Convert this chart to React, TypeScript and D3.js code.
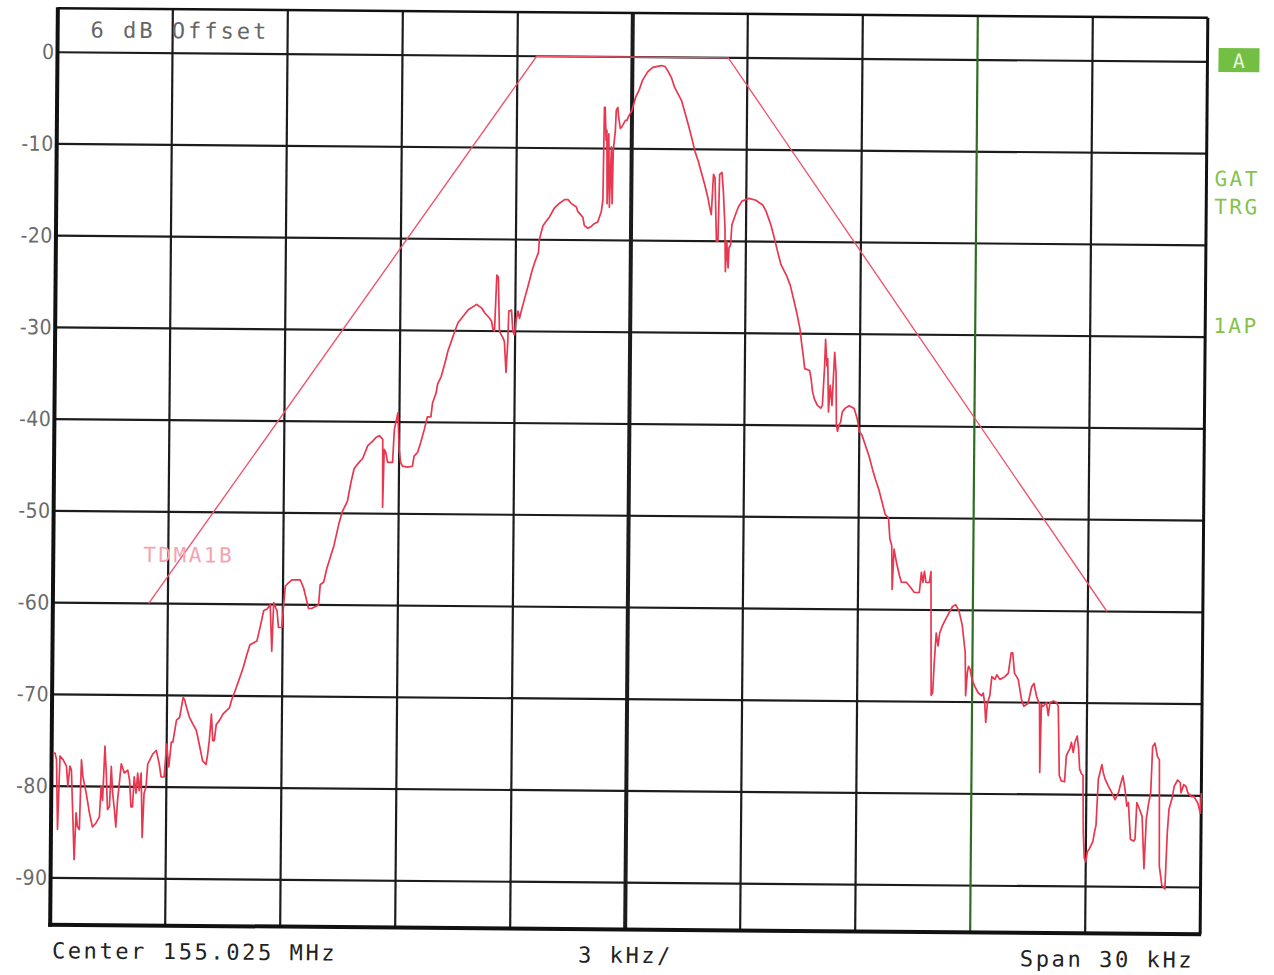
import React, { useRef, useEffect } from 'react';
import * as d3 from 'd3';

// spectrum analyser plot, 3 kHz/div, dB
const freqTicks = [-12, -9, -6, -3, 0, 3, 6, 9, 12];
const levelTicks = [0, -10, -20, -30, -40, -50, -60, -70, -80, -90];
const levelLabels = ['0', '-10', '-20', '-30', '-40', '-50', '-60', '-70', '-80', '-90'];
const markerFreq = 9; // green display line

const maskKHz = [-12.5, -2.5, 2.5, 12.5];
const maskDb = [-60, 0, 0, -60];

// [kHz offset, dB]
const trace: [number, number][] = [
  [-14.97, -76.4], [-14.91, -76.4], [-14.87, -77.1], [-14.83, -84.7], [-14.78, -76.7],
  [-14.70, -77.1], [-14.61, -77.8], [-14.57, -80.0], [-14.52, -77.8], [-14.48, -78.2],
  [-14.39, -88.0], [-14.35, -82.9], [-14.31, -84.4], [-14.26, -84.7], [-14.22, -77.1],
  [-14.18, -78.9], [-14.09, -80.7], [-14.00, -82.9], [-13.92, -84.4], [-13.83, -84.0],
  [-13.74, -83.3], [-13.70, -80.0], [-13.66, -81.5], [-13.61, -75.6], [-13.57, -78.5],
  [-13.53, -82.5], [-13.48, -82.2], [-13.44, -77.8], [-13.40, -80.7], [-13.35, -82.5],
  [-13.31, -84.4], [-13.27, -81.5], [-13.18, -77.5], [-13.10, -78.5], [-13.01, -78.2],
  [-12.96, -79.3], [-12.92, -82.2], [-12.88, -82.2], [-12.84, -78.9], [-12.79, -80.7],
  [-12.75, -78.5], [-12.71, -80.4], [-12.66, -78.5], [-12.62, -85.5], [-12.58, -80.7],
  [-12.53, -80.0], [-12.49, -77.5], [-12.36, -76.4], [-12.27, -76.0], [-12.19, -77.5],
  [-12.14, -78.9], [-12.06, -78.9], [-12.00, -75.3], [-11.94, -77.8], [-11.88, -75.1],
  [-11.84, -75.1], [-11.75, -72.7], [-11.67, -72.4], [-11.58, -70.2], [-11.54, -70.5],
  [-11.49, -71.3], [-11.41, -72.4], [-11.32, -73.1], [-11.23, -73.8], [-11.15, -75.3],
  [-11.06, -77.1], [-10.97, -77.5], [-10.93, -76.4], [-10.89, -74.9], [-10.84, -72.0],
  [-10.80, -74.9], [-10.76, -74.9], [-10.71, -73.1], [-10.63, -72.7], [-10.54, -72.0],
  [-10.45, -71.6], [-10.37, -71.3], [-10.32, -70.5], [-10.24, -69.6], [-10.15, -68.5],
  [-10.02, -66.9], [-9.93, -65.5], [-9.85, -64.4], [-9.67, -64.0], [-9.59, -62.5],
  [-9.50, -60.7], [-9.41, -60.5], [-9.33, -60.0], [-9.28, -65.1], [-9.24, -59.8],
  [-9.15, -60.7], [-9.11, -62.5], [-9.02, -62.5], [-8.98, -60.0], [-8.94, -58.0],
  [-8.90, -57.8], [-8.77, -57.3], [-8.55, -57.3], [-8.46, -58.2], [-8.33, -60.4],
  [-8.25, -60.4], [-8.07, -60.0], [-8.03, -57.8], [-7.94, -57.5], [-7.86, -56.0],
  [-7.68, -53.5],
  [-7.56, -51.2], [-7.47, -49.8], [-7.34, -48.7], [-7.25, -46.6], [-7.17, -45.1],
  [-7.04, -44.4], [-6.95, -44.0], [-6.82, -42.6], [-6.69, -42.1], [-6.61, -41.7],
  [-6.52, -41.5], [-6.43, -41.9], [-6.42, -49.3], [-6.39, -43.0], [-6.35, -43.3],
  [-6.30, -44.4], [-6.17, -44.4], [-6.13, -40.8], [-6.04, -39.0], [-6.00, -43.0],
  [-5.96, -44.4], [-5.91, -44.8], [-5.78, -44.9], [-5.65, -44.8], [-5.61, -43.7],
  [-5.52, -43.3], [-5.44, -42.2], [-5.35, -40.8], [-5.27, -39.4], [-5.18, -39.4],
  [-5.14, -37.9], [-5.05, -36.8], [-5.01, -35.8], [-4.92, -35.0], [-4.83, -33.6],
  [-4.75, -32.2], [-4.66, -31.1], [-4.57, -30.0], [-4.49, -29.1], [-4.36, -28.4],
  [-4.23, -27.7], [-4.01, -27.1], [-3.88, -27.5], [-3.80, -28.0], [-3.67, -28.6],
  [-3.62, -28.9], [-3.58, -29.8], [-3.54, -30.0], [-3.49, -23.9], [-3.45, -24.1],
  [-3.41, -30.0], [-3.36, -30.4], [-3.32, -30.7], [-3.28, -31.1], [-3.23, -34.5],
  [-3.19, -31.1], [-3.17, -27.8], [-3.10, -27.7], [-3.06, -30.0], [-3.02, -30.4],
  [-2.97, -28.6], [-2.93, -27.8], [-2.89, -28.6], [-2.84, -27.7], [-2.76, -26.4],
  [-2.67, -25.0], [-2.58, -23.5], [-2.50, -22.4], [-2.41, -21.4],
  [-2.39, -20.0], [-2.30, -18.5], [-2.22, -18.0], [-2.13, -17.5], [-2.00, -16.5],
  [-1.87, -16.0], [-1.74, -15.6], [-1.65, -15.6], [-1.57, -16.0], [-1.43, -16.4],
  [-1.39, -16.9], [-1.30, -17.3], [-1.26, -17.5], [-1.22, -18.4], [-1.13, -18.7],
  [-1.04, -18.5], [-0.96, -18.2], [-0.87, -18.0], [-0.78, -16.9], [-0.74, -15.6],
  [-0.72, -5.5], [-0.70, -5.5], [-0.67, -9.1], [-0.65, -8.0], [-0.63, -16.0],
  [-0.60, -8.4], [-0.57, -16.4], [-0.53, -9.8], [-0.50, -16.0], [-0.48, -10.2],
  [-0.43, -8.0], [-0.41, -5.8], [-0.37, -5.5], [-0.35, -6.5], [-0.30, -7.8],
  [-0.26, -7.6], [-0.22, -7.3], [-0.17, -6.9], [-0.13, -6.9], [-0.09, -6.5],
  [0.00, -5.8], [0.09, -4.4], [0.18, -3.6], [0.27, -2.5], [0.40, -1.6],
  [0.53, -1.1], [0.76, -0.9], [0.85, -1.0], [0.93, -1.5], [1.02, -2.2],
  [1.11, -3.3], [1.20, -4.0], [1.29, -4.7], [1.38, -6.0], [1.47, -7.3],
  [1.56, -8.7], [1.65, -10.2], [1.74, -11.3], [1.82, -12.5], [1.91, -13.8],
  [2.00, -15.3], [2.05, -16.4], [2.09, -17.1], [2.14, -12.7], [2.18, -13.1],
  [2.23, -20.0], [2.27, -20.0], [2.30, -12.7], [2.36, -12.5], [2.40, -14.5],
  [2.45, -18.5], [2.47, -23.3], [2.50, -20.0], [2.54, -22.9], [2.56, -20.7],
  [2.60, -20.4], [2.63, -18.2], [2.72, -17.1], [2.80, -16.2], [2.89, -15.6],
  [3.07, -15.3], [3.25, -15.5], [3.43, -16.0], [3.52, -16.7], [3.65, -18.2],
  [3.74, -19.6], [3.83, -21.1], [3.92, -22.5],
  [4.08, -23.8], [4.17, -24.8], [4.26, -26.3], [4.34, -27.7], [4.43, -29.5],
  [4.47, -30.9], [4.52, -32.4], [4.56, -33.8], [4.69, -34.0], [4.73, -34.9],
  [4.77, -36.3], [4.82, -37.1], [4.90, -37.8], [4.99, -38.1], [5.03, -37.8],
  [5.08, -33.5], [5.10, -30.6], [5.14, -33.5], [5.16, -32.7], [5.19, -38.5],
  [5.23, -35.6], [5.28, -37.8], [5.31, -34.9], [5.34, -32.0], [5.38, -34.2],
  [5.40, -39.9], [5.43, -40.6], [5.47, -39.9], [5.51, -39.6], [5.55, -38.5],
  [5.62, -38.1], [5.73, -37.8], [5.86, -38.1], [5.94, -39.2], [6.00, -40.6],
  [6.07, -41.0], [6.16, -42.1],
  [6.26, -43.3], [6.35, -44.7], [6.43, -45.8], [6.52, -46.9], [6.61, -48.3],
  [6.69, -49.6], [6.78, -50.0], [6.82, -52.3], [6.87, -53.0], [6.89, -57.8],
  [6.93, -53.4], [7.00, -54.9], [7.08, -56.3], [7.13, -57.0], [7.26, -57.0],
  [7.34, -57.4], [7.47, -58.1], [7.60, -58.1], [7.65, -55.9], [7.69, -57.0],
  [7.73, -55.8], [7.77, -57.0], [7.86, -57.0], [7.90, -55.8], [7.93, -69.3],
  [7.97, -69.0], [8.00, -66.1], [8.05, -62.5], [8.10, -63.9], [8.14, -62.5],
  [8.21, -61.7], [8.29, -61.0], [8.38, -60.3], [8.47, -59.6], [8.55, -59.4],
  [8.64, -60.1], [8.73, -61.7], [8.77, -63.2], [8.81, -64.6], [8.83, -69.3],
  [8.87, -66.8], [8.90, -66.1], [8.94, -66.4], [8.99, -67.5], [9.07, -68.3],
  [9.16, -69.0], [9.25, -69.3], [9.29, -69.0], [9.33, -70.1], [9.36, -72.2],
  [9.40, -70.1], [9.46, -69.3], [9.51, -67.2], [9.59, -67.5], [9.64, -67.0],
  [9.72, -67.5], [9.85, -67.2], [9.94, -66.8], [10.01, -64.6], [10.05, -64.6],
  [10.10, -66.8], [10.20, -67.5], [10.29, -69.7], [10.35, -70.4], [10.46, -70.1],
  [10.55, -68.3], [10.61, -67.9], [10.68, -69.3],
  [10.76, -70.2], [10.78, -77.6], [10.81, -70.2], [10.85, -70.4], [10.94, -70.0],
  [10.99, -71.4], [11.03, -70.0], [11.12, -69.8], [11.21, -70.0], [11.25, -70.4],
  [11.29, -77.9], [11.34, -78.5], [11.43, -78.6], [11.47, -75.8], [11.51, -75.4],
  [11.56, -75.0], [11.60, -74.3], [11.65, -75.4], [11.69, -74.3], [11.75, -73.6],
  [11.79, -75.0], [11.82, -77.2], [11.87, -77.7], [11.91, -77.9], [11.93, -84.1],
  [11.96, -86.9], [12.00, -87.3], [12.04, -86.2], [12.09, -85.9], [12.18, -85.1],
  [12.22, -84.1], [12.26, -83.3], [12.31, -78.3], [12.35, -77.6], [12.40, -76.7],
  [12.44, -77.6], [12.49, -78.3], [12.57, -79.0], [12.66, -79.7], [12.75, -80.5],
  [12.84, -79.7], [12.88, -79.0], [12.95, -77.9], [13.01, -79.4], [13.06, -81.2],
  [13.10, -80.8], [13.16, -84.8], [13.24, -85.0], [13.28, -84.8], [13.32, -80.8],
  [13.39, -81.5], [13.46, -82.3], [13.52, -88.0], [13.57, -82.6], [13.63, -80.8],
  [13.68, -79.7], [13.72, -74.7], [13.78, -74.3], [13.85, -75.8], [13.90, -76.1],
  [13.92, -87.7], [13.99, -89.8], [14.07, -90.2], [14.12, -84.1], [14.16, -81.5],
  [14.25, -80.1], [14.29, -79.0], [14.38, -78.3], [14.45, -78.6], [14.47, -79.7],
  [14.54, -78.8], [14.60, -79.0], [14.65, -79.7], [14.74, -80.1], [14.81, -80.1],
  [14.91, -80.8], [14.98, -81.9], [15.00, -79.7],
];

const headerText = '6 dB Offset';
const maskName = 'TDMA1B';
const footerTexts = ['Center 155.025 MHz', '3 kHz/', 'Span 30 kHz'];
const sideLabels = ['GAT', 'TRG', '1AP'];

const SpectrumPlot = () => {
  const svgRef = useRef<SVGSVGElement>(null);

  useEffect(() => {
    const svg = d3.select(svgRef.current);
    svg.selectAll('*').remove();

    const width = 1274;
    const height = 975;
    const plot = { left: 54, right: 1204, top: 13, bottom: 929.5 };

    svg.attr('width', width).attr('height', height);
    svg.append('rect').attr('width', width).attr('height', height).attr('fill', '#fff');

    // the original is a slightly skewed scan
    const g = svg.append('g').attr('transform', 'rotate(0.48, 629, 471)');

    const x = d3.scaleLinear().domain([-15, 15]).range([plot.left, plot.right]);
    const y = d3.scaleLinear().domain([4.8, -95.1]).range([plot.top, plot.bottom]);

    const mono = "'DejaVu Sans Mono', monospace";
    const narrow = "'Liberation Sans Narrow', 'DejaVu Sans Condensed', 'Roboto Condensed', sans-serif";

    // grid
    g.append('g')
      .selectAll('line')
      .data(levelTicks)
      .join('line')
      .attr('x1', plot.left).attr('x2', plot.right)
      .attr('y1', d => y(d)).attr('y2', d => y(d))
      .attr('stroke', '#1c1c1c').attr('stroke-width', 2.2);

    g.append('g')
      .selectAll('line')
      .data(freqTicks)
      .join('line')
      .attr('x1', d => x(d)).attr('x2', d => x(d))
      .attr('y1', plot.top).attr('y2', plot.bottom)
      .attr('stroke', d => (d === markerFreq ? '#2f6e22' : '#1c1c1c'))
      .attr('stroke-width', d => (d === 0 ? 4 : 2.2));

    // frame
    const frame = g.append('g').attr('stroke', '#111');
    frame.append('line').attr('x1', plot.left).attr('x2', plot.right).attr('y1', plot.top).attr('y2', plot.top).attr('stroke-width', 2.5);
    frame.append('line').attr('x1', plot.right).attr('x2', plot.right).attr('y1', plot.top).attr('y2', plot.bottom).attr('stroke-width', 3);
    frame.append('line').attr('x1', plot.left).attr('x2', plot.left).attr('y1', plot.top - 1).attr('y2', plot.bottom + 2).attr('stroke-width', 4);
    frame.append('line').attr('x1', plot.left - 2).attr('x2', plot.right + 1).attr('y1', plot.bottom).attr('y2', plot.bottom).attr('stroke-width', 4);

    // level labels
    g.append('g')
      .selectAll('text')
      .data(levelTicks)
      .join('text')
      .attr('x', plot.left - 3)
      .attr('y', d => y(d) + 7)
      .attr('text-anchor', 'end')
      .attr('font-family', narrow)
      .attr('font-size', 21)
      .attr('letter-spacing', 0.5)
      .attr('fill', '#6a6a6a')
      .text((d, i) => levelLabels[i]);

    // limit mask
    const line = d3.line<[number, number]>().x(d => x(d[0])).y(d => y(d[1]));
    const mask = maskKHz.map((f, i) => [f, maskDb[i]] as [number, number]);
    g.append('path')
      .attr('d', line(mask))
      .attr('fill', 'none')
      .attr('stroke', '#f0566c')
      .attr('stroke-width', 1.4);

    g.append('text')
      .attr('x', 144).attr('y', 566)
      .attr('font-family', mono).attr('font-size', 21).attr('letter-spacing', 2.5)
      .attr('fill', '#f4a3b2')
      .text(maskName);

    // trace
    g.append('path')
      .attr('d', line(trace))
      .attr('fill', 'none')
      .attr('stroke', '#e8374f')
      .attr('stroke-width', 1.7)
      .attr('stroke-linejoin', 'round');

    // annotations
    g.append('text')
      .attr('x', 87).attr('y', 42)
      .attr('font-family', mono).attr('font-size', 22).attr('letter-spacing', 3)
      .attr('fill', '#666')
      .text(headerText);

    const footerX = [56, 582, 1024];
    g.append('g')
      .selectAll('text')
      .data(footerTexts)
      .join('text')
      .attr('x', (d, i) => footerX[i])
      .attr('y', 963)
      .attr('font-family', mono).attr('font-size', 22).attr('letter-spacing', 2.6)
      .attr('fill', '#222')
      .text(d => d);

    g.append('rect')
      .attr('x', 1215).attr('y', 43).attr('width', 41).attr('height', 24)
      .attr('fill', '#72bf44');
    g.append('text')
      .attr('x', 1235.5).attr('y', 63)
      .attr('text-anchor', 'middle')
      .attr('font-family', mono).attr('font-size', 20)
      .attr('fill', '#e8f5dc')
      .text('A');

    const sideY = [181, 209, 328];
    g.append('g')
      .selectAll('text')
      .data(sideLabels)
      .join('text')
      .attr('x', 1212)
      .attr('y', (d, i) => sideY[i])
      .attr('font-family', mono).attr('font-size', 21).attr('letter-spacing', 2.5)
      .attr('fill', '#86c24a')
      .text(d => d);
  }, []);

  return <svg ref={svgRef} style={{ position: 'absolute', left: 0, top: 0 }}></svg>;
};

export default function App() {
  return <SpectrumPlot />;
}
